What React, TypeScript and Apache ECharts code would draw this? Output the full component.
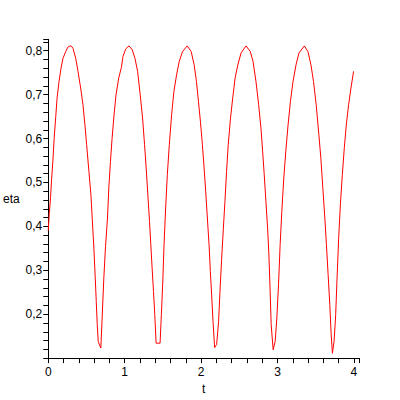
import { useEffect, useRef } from 'react'
import * as echarts from 'echarts'

// t values (s)
const T = [
  0, 0.013, 0.03, 0.043, 0.06, 0.077, 0.098, 0.115, 0.141, 0.167, 0.193, 0.228, 0.255, 0.285, 0.305,
  0.324, 0.359, 0.389, 0.424, 0.454, 0.48, 0.502, 0.532, 0.558, 0.576, 0.597, 0.615, 0.628,
  0.641, 0.654, 0.675, 0.688, 0.705, 0.727, 0.749, 0.775, 0.792, 0.814, 0.835, 0.861, 0.887,
  0.922, 0.957, 0.978, 1.013, 1.056, 1.099, 1.134, 1.169, 1.203, 1.234, 1.26, 1.281, 1.303,
  1.325, 1.342, 1.359, 1.377, 1.394, 1.411, 1.463, 1.48, 1.498, 1.515, 1.536, 1.558, 1.584,
  1.614, 1.644, 1.679, 1.714, 1.757, 1.818, 1.87, 1.909, 1.939, 1.965, 1.991, 2.017, 2.039,
  2.06, 2.082, 2.104, 2.121, 2.138, 2.156, 2.177, 2.203, 2.229, 2.247, 2.268, 2.29, 2.312,
  2.333, 2.355, 2.385, 2.416, 2.445, 2.481, 2.523, 2.588, 2.644, 2.679, 2.718, 2.753, 2.783,
  2.805, 2.826, 2.848, 2.87, 2.887, 2.902, 2.917, 2.943, 2.969, 2.991, 3.013, 3.034, 3.056,
  3.082, 3.108, 3.138, 3.169, 3.203, 3.242, 3.281, 3.351, 3.398, 3.437, 3.471, 3.506, 3.541,
  3.567, 3.593, 3.619, 3.64, 3.662, 3.684, 3.701, 3.718, 3.74, 3.761, 3.779, 3.8, 3.822,
  3.848, 3.874, 3.9, 3.93, 3.961, 3.995,
]

// eta values at the same t
const ETA = [
  0.39, 0.429, 0.466, 0.506, 0.548, 0.6, 0.65, 0.692, 0.73, 0.76, 0.783, 0.798, 0.808, 0.811, 0.81,
  0.805, 0.783, 0.753, 0.715, 0.677, 0.631, 0.586, 0.525, 0.472, 0.415, 0.35, 0.282, 0.229,
  0.176, 0.138, 0.128, 0.123, 0.191, 0.282, 0.354, 0.419, 0.487, 0.548, 0.6, 0.654, 0.7,
  0.738, 0.762, 0.787, 0.804, 0.811, 0.802, 0.783, 0.753, 0.7, 0.647, 0.586, 0.533, 0.472,
  0.411, 0.358, 0.305, 0.252, 0.199, 0.134, 0.134, 0.199, 0.271, 0.358, 0.442, 0.518, 0.586,
  0.654, 0.707, 0.745, 0.776, 0.798, 0.811, 0.798, 0.768, 0.73, 0.685, 0.639, 0.586, 0.533,
  0.48, 0.419, 0.358, 0.297, 0.244, 0.183, 0.124, 0.131, 0.183, 0.252, 0.324, 0.392, 0.457,
  0.525, 0.586, 0.647, 0.696, 0.738, 0.768, 0.795, 0.811, 0.798, 0.776, 0.73, 0.677, 0.624,
  0.571, 0.518, 0.457, 0.396, 0.335, 0.26, 0.176, 0.119, 0.138, 0.191, 0.267, 0.358, 0.434,
  0.51, 0.571, 0.631, 0.685, 0.73, 0.768, 0.795, 0.811, 0.798, 0.768, 0.73, 0.677, 0.609,
  0.555, 0.487, 0.419, 0.358, 0.29, 0.222, 0.157, 0.111, 0.138, 0.199, 0.282, 0.373, 0.449,
  0.518, 0.579, 0.631, 0.677, 0.715, 0.753,
]

const FONT = "'Liberation Sans', Arial, sans-serif"

const isMultiple = (v: number, step: number) => {
  const k = v / step
  return Math.abs(k - Math.round(k)) < 1e-6
}

export default function App() {
  const ref = useRef<HTMLDivElement>(null)

  useEffect(() => {
    const el = ref.current
    if (!el) return
    const chart = echarts.init(el, null, { renderer: 'svg' })
    const axisLine = { lineStyle: { color: '#000', width: 1 } }
    chart.setOption({
      animation: false,
      backgroundColor: '#fff',
      grid: { left: 45.7, top: 39.3, right: 40.7, bottom: 40.7 },
      xAxis: {
        type: 'value',
        min: 0,
        max: 4.07,
        interval: 0.2,
        name: 't',
        nameLocation: 'middle',
        nameGap: 20,
        nameTextStyle: { fontFamily: FONT, fontSize: 12, color: '#000' },
        axisLine,
        axisTick: { length: 5, lineStyle: { color: '#000' } },
        axisLabel: {
          fontFamily: FONT,
          fontSize: 12,
          color: '#000',
          margin: 8,
          formatter: (v: number) => (isMultiple(v, 1) ? String(Math.round(v)) : ''),
        },
        splitLine: { show: false },
      },
      yAxis: {
        type: 'value',
        min: 0.1,
        max: 0.826,
        interval: 0.02,
        name: 'eta',
        nameLocation: 'middle',
        nameRotate: 0,
        nameGap: 27.5,
        nameTextStyle: { fontFamily: FONT, fontSize: 12, color: '#000' },
        axisLine,
        axisTick: { length: 5, lineStyle: { color: '#000' } },
        axisLabel: {
          fontFamily: FONT,
          fontSize: 12,
          color: '#000',
          margin: 6,
          formatter: (v: number) =>
            v > 0.15 && isMultiple(v, 0.1) ? v.toFixed(1).replace('.', ',') : '',
        },
        splitLine: { show: false },
      },
      series: [
        {
          type: 'line',
          data: T.map((t, i) => [t, ETA[i]]),
          showSymbol: false,
          lineStyle: { color: '#ff0000', width: 1 },
          emphasis: { disabled: true },
        },
      ],
    })
    return () => chart.dispose()
  }, [])

  return (
    <div
      ref={ref}
      style={{ position: 'fixed', left: 0, top: 0, width: 400, height: 400 }}
    />
  )
}
